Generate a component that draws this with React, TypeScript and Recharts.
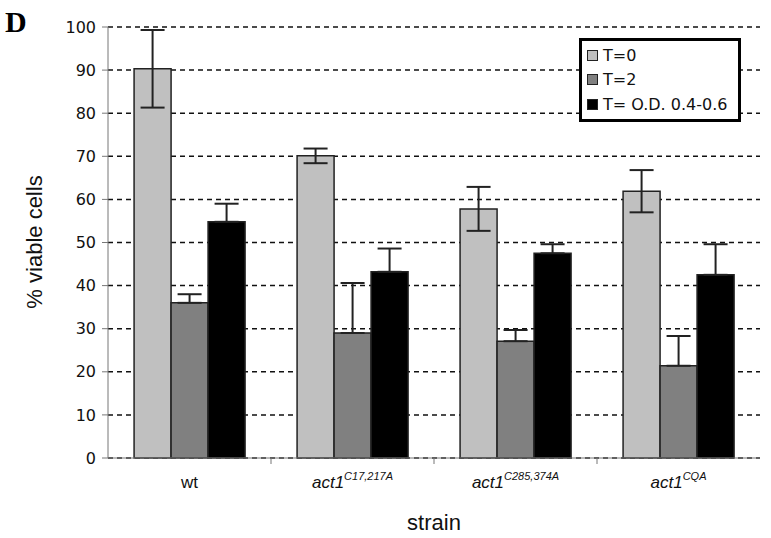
import React from "react";
import {
  Bar,
  BarChart,
  CartesianGrid,
  ErrorBar,
  Label,
  XAxis,
  YAxis,
} from "recharts";

const strains = ["wt", "act1", "act1", "act1"];
const strainSups = ["", "C17,217A", "C285,374A", "CQA"];
const t0 = [90.3, 70.1, 57.8, 61.9];
const t0Err = [9.0, 1.7, 5.1, 4.9];
const t2 = [36.0, 29.0, 27.1, 21.4];
const t2Err = [2.0, 11.6, 2.6, 6.9];
const od = [54.8, 43.2, 47.5, 42.5];
const odErr = [4.2, 5.4, 2.1, 7.1];
const yTicks = [0, 10, 20, 30, 40, 50, 60, 70, 80, 90, 100];

const seriesNames = ["T=0", "T=2", "T= O.D. 0.4-0.6"];
const seriesColors = ["#c0c0c0", "#808080", "#000000"];

const rows = strains.map((s, i) => ({
  key: s + strainSups[i],
  t0: t0[i],
  t0E: [t0Err[i], t0Err[i]],
  t2: t2[i],
  t2E: [0, t2Err[i]],
  od: od[i],
  odE: [0, odErr[i]],
}));

const W = 771;
const H = 538;
const band = (760 - 108) / strains.length;

function StrainTick(props: any) {
  const { x, y, index } = props;
  const sup = strainSups[index];
  const base = strains[index];
  return (
    <g>
      {index > 0 && (
        <line x1={x - band / 2} x2={x - band / 2} y1={y - 8} y2={y - 2} stroke="#777" />
      )}
      <text
        x={x}
        y={y + 22}
        textAnchor="middle"
        fontFamily="'Liberation Sans', Arial, sans-serif"
        fontSize={17}
        fill="#111"
        fontStyle={sup ? "italic" : "normal"}
      >
        {base}
        {sup && (
          <tspan fontSize={11} dy={-8}>
            {sup}
          </tspan>
        )}
      </text>
    </g>
  );
}

function LegendBox() {
  return (
    <div
      style={{
        position: "absolute",
        left: 579,
        top: 38,
        border: "3px solid #000",
        background: "#fff",
        width: 162,
        padding: "2px 0 2px 5px",
        fontFamily: "'DejaVu Sans', Verdana, sans-serif",
        fontSize: 16,
        color: "#111",
        boxSizing: "border-box",
      }}
    >
      {seriesNames.map((n, i) => (
        <div key={n} style={{ display: "flex", alignItems: "center", height: 24.5 }}>
          <span
            style={{
              width: 9,
              height: 9,
              background: seriesColors[i],
              border: "1px solid #222",
              marginRight: 5,
              display: "inline-block",
            }}
          />
          {n}
        </div>
      ))}
    </div>
  );
}

export default function App() {
  return (
    <div style={{ position: "absolute", left: 0, top: 0, width: W, height: H, background: "#fff" }}>
      <div
        style={{
          position: "absolute",
          left: 5,
          top: 4,
          fontFamily: "'Liberation Serif', 'Times New Roman', serif",
          fontWeight: "bold",
          fontSize: 30,
          lineHeight: "36px",
          color: "#000",
        }}
      >
        D
      </div>
      <BarChart
        width={W}
        height={H}
        data={rows}
        margin={{ top: 27, right: 11, left: 0, bottom: 0 }}
        barGap={0}
        barCategoryGap="16%"
      >
        <CartesianGrid vertical={false} stroke="#111" strokeWidth={1.5} strokeDasharray="5 4" />
        <XAxis
          dataKey="key"
          height={80}
          stroke="#777"
          tickLine={false}
          interval={0}
          tick={<StrainTick />}
        >
          <Label
            content={() => (
              <text
                x={434}
                y={530}
                textAnchor="middle"
                fontFamily="'Liberation Sans', Arial, sans-serif"
                fontSize={22}
                fill="#111"
              >
                strain
              </text>
            )}
          />
        </XAxis>
        <YAxis
          width={108}
          domain={[0, 100]}
          ticks={yTicks}
          interval={0}
          stroke="#777"
          tickSize={6}
          tickMargin={6}
          tick={{ fontFamily: "'DejaVu Sans', Verdana, sans-serif", fontSize: 16, fill: "#111" }}
        >
          <Label
            content={() => (
              <text
                x={42}
                y={242}
                transform="rotate(-90 42 242)"
                textAnchor="middle"
                fontFamily="'Liberation Sans', Arial, sans-serif"
                fontSize={22}
                fill="#111"
              >
                % viable cells
              </text>
            )}
          />
        </YAxis>
        <Bar dataKey="t0" name={seriesNames[0]} fill={seriesColors[0]} stroke="#222" strokeWidth={1.5} isAnimationActive={false}>
          <ErrorBar dataKey="t0E" width={12} stroke="#222" strokeWidth={2} />
        </Bar>
        <Bar dataKey="t2" name={seriesNames[1]} fill={seriesColors[1]} stroke="#222" strokeWidth={1.5} isAnimationActive={false}>
          <ErrorBar dataKey="t2E" width={12} stroke="#222" strokeWidth={2} />
        </Bar>
        <Bar dataKey="od" name={seriesNames[2]} fill={seriesColors[2]} stroke="#222" strokeWidth={1.5} isAnimationActive={false}>
          <ErrorBar dataKey="odE" width={12} stroke="#222" strokeWidth={2} />
        </Bar>
      </BarChart>
      <LegendBox />
    </div>
  );
}
